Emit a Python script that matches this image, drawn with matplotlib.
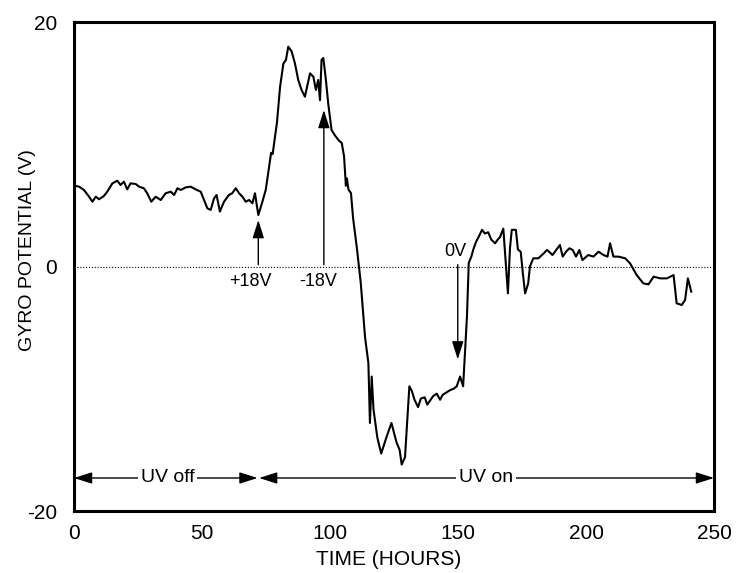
import matplotlib
matplotlib.use("Agg")
import matplotlib.pyplot as plt

plt.rcParams['font.family'] = ['Liberation Sans', 'DejaVu Sans']
plt.rcParams['axes.unicode_minus'] = False

hours = [
    0.5, 2.0, 3.9, 5.9, 7.2, 8.5, 9.8, 11.7, 13.0, 15.0,
    16.9, 18.2, 19.5, 20.8, 22.1, 24.1, 25.4, 27.3, 28.6, 30.2,
    31.9, 33.9, 35.8, 37.8, 39.1, 40.4, 41.7, 43.6, 45.6, 47.5,
    49.5, 50.8, 52.1, 53.4, 54.7, 55.7, 57.0, 58.6, 60.5, 61.8,
    63.2, 64.5, 65.8, 67.1, 68.4, 69.7, 70.7, 72.0, 73.6, 74.9,
    76.2, 77.0, 77.6, 78.5, 79.3, 80.5, 81.8, 82.8, 83.7, 85.0,
    86.3, 87.6, 88.9, 90.2, 91.2, 92.2, 93.5, 94.5, 95.4, 96.1,
    96.7, 97.4, 98.4, 99.3, 100.6, 102.0, 103.5, 104.6, 105.5, 106.2,
    106.6, 107.2, 108.2, 109.0, 110.5, 112.0, 113.7, 115.0, 115.6, 116.3,
    117.0, 118.5, 120.0, 122.0, 124.0, 126.0, 127.2, 128.0, 129.3, 131.0,
    132.0, 133.0, 134.4, 135.5, 137.0, 138.0, 139.0, 140.3, 141.7, 143.0,
    144.0, 145.5, 147.0, 148.3, 149.5, 150.8, 152.0, 153.5, 154.2, 155.2,
    156.0, 157.0, 158.0, 159.4, 160.5, 161.8, 163.0, 164.5, 165.5, 166.4,
    167.7, 168.6, 169.5, 170.3, 171.0, 172.6, 173.4, 174.5, 175.3, 176.2,
    177.4, 178.1, 179.4, 181.4, 183.5, 184.8, 186.9, 188.5, 189.8, 190.9,
    192.2, 193.5, 194.8, 196.1, 197.4, 198.6, 200.9, 202.9, 204.9, 206.8,
    208.4, 209.4, 210.7, 212.6, 215.3, 217.2, 219.8, 222.4, 224.4, 226.4,
    229.0, 231.6, 234.2, 235.4, 237.4, 238.7, 239.8, 241.1,
]
potential = [
    6.6, 6.53, 6.26, 5.71, 5.30, 5.71, 5.50, 5.77, 6.12, 6.80,
    7.02, 6.67, 6.94, 6.31, 6.80, 6.75, 6.53, 6.40, 5.99, 5.30,
    5.71, 5.44, 5.99, 6.12, 5.85, 6.40, 6.26, 6.47, 6.53, 6.31,
    6.12, 5.44, 4.76, 4.63, 5.57, 5.85, 4.49, 5.30, 5.85, 5.99,
    6.40, 5.99, 5.71, 5.30, 5.44, 5.17, 5.99, 4.21, 5.30, 6.26,
    8.17, 9.3, 9.2, 10.6, 11.8, 14.7, 16.6, 16.9, 17.98, 17.6,
    16.62, 15.26, 14.44, 13.89, 14.85, 15.8, 15.53, 14.44, 15.26, 13.6,
    16.9, 17.06, 15.26, 13.35, 11.17, 10.7, 10.3, 10.1, 9.0, 6.6,
    7.2, 6.3, 6.0, 4.0, 1.5, -1.3, -5.8, -7.9, -12.8, -9.0,
    -11.7, -14.0, -15.3, -14.0, -12.8, -14.4, -15.0, -16.2, -15.6, -9.8,
    -10.2, -10.9, -11.5, -10.8, -10.7, -11.3, -11.0, -10.6, -10.4, -10.9,
    -10.5, -10.3, -10.1, -10.0, -9.8, -9.0, -9.8, -4.1, 0.3, 0.8,
    1.4, 2.0, 2.4, 3.0, 2.7, 2.8, 2.2, 1.9, 2.2, 2.4,
    3.1, 0.5, -2.2, 1.5, 3.0, 3.0, 1.4, 1.2, -0.5, -2.2,
    -1.4, 0.0, 0.67, 0.67, 1.08, 1.36, 0.94, 1.4, 1.76, 0.81,
    1.21, 1.49, 1.35, 0.81, 1.35, 0.53, 0.94, 0.81, 1.21, 0.94,
    0.81, 1.90, 0.81, 0.81, 0.67, 0.26, -0.70, -1.38, -1.46, -0.83,
    -0.97, -0.97, -0.70, -3.01, -3.15, -2.74, -0.97, -2.06,
]

# voltage-step annotations: label, time, arrow tip
step_labels = ['+18V', '-18V', '0V']
step_times = [72.0, 97.6, 149.9]
step_tips = [3.8, 12.8, -7.6]

phase_labels = ['UV off', 'UV on']
phase_start = [0.0, 72.3]
phase_end = [71.7, 250.0]

x_ticks = [0, 50, 100, 150, 200, 250]
y_ticks = [-20, 0, 20]

fig = plt.figure(figsize=(7.39, 5.73), dpi=100)
ax = fig.add_axes([0.1001, 0.1082, 0.8661, 0.8534])

ax.axhline(0, color='black', lw=0.8, ls=(0, (1, 1.6)), zorder=1)
ax.plot(hours, potential, color='black', lw=1.5, zorder=3)

head = dict(arrowstyle='-|>,head_length=1.1,head_width=0.35', color='black',
            lw=1.0, shrinkA=0, shrinkB=0)
for lab, t, tip in zip(step_labels, step_times, step_tips):
    ax.annotate('', xy=(t, tip), xytext=(t, 0.15), arrowprops=head, zorder=4)

ax.text(69.0, -0.5, step_labels[0], ha='center', va='top', fontsize=13)
ax.text(95.5, -0.5, step_labels[1], ha='center', va='top', fontsize=13)
ax.text(149.0, 0.5, step_labels[2], ha='center', va='bottom', fontsize=13)

dbl = dict(arrowstyle='<|-|>,head_length=1.1,head_width=0.35', color='black',
           lw=1.0, shrinkA=0, shrinkB=0)
y_phase = -17.3
for lab, a, b in zip(phase_labels, phase_start, phase_end):
    ax.annotate('', xy=(a, y_phase), xytext=(b, y_phase), arrowprops=dbl, zorder=4)
ax.text(36.5, y_phase, phase_labels[0], ha='center', va='center', fontsize=14,
        bbox=dict(facecolor='white', edgecolor='none', pad=2), zorder=5)
ax.text(161.0, y_phase, phase_labels[1], ha='center', va='center', fontsize=14,
        bbox=dict(facecolor='white', edgecolor='none', pad=2), zorder=5)

ax.set_xlim(0, 250)
ax.set_ylim(-20, 20)
ax.set_xticks(x_ticks)
ax.set_yticks(y_ticks)
ax.tick_params(length=0, labelsize=15, pad=12)
ax.tick_params(axis='x', pad=9)
for s in ax.spines.values():
    s.set_linewidth(2.2)

ax.set_xlabel('TIME (HOURS)', fontsize=15)
ax.xaxis.label.set(va='center', ha='center')
ax.xaxis.set_label_coords((389 - 74) / 640, (511 - 559) / 489)
ax.set_ylabel('GYRO POTENTIAL (V)', fontsize=14)
ax.yaxis.label.set(va='center', ha='center')
ax.yaxis.set_label_coords((28 - 74) / 640, (511 - 250) / 489)

fig.savefig('out.png', dpi=100)
